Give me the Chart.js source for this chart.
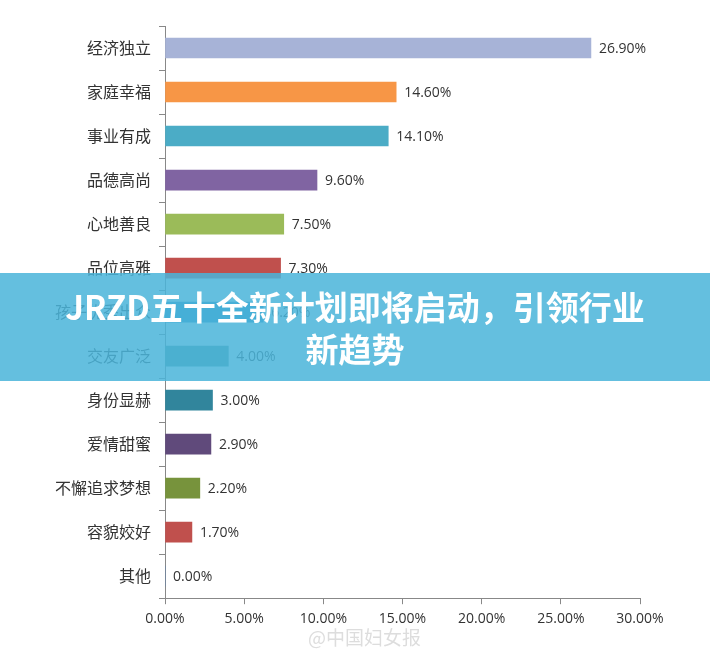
<!DOCTYPE html>
<html>
<head>
<script src="https://cdn.jsdelivr.net/npm/chart.js"></script>
<style>
  body { margin: 0; background: #fff; font-family: 'Noto Sans CJK SC', sans-serif; }
  #wrap { position: relative; width: 710px; height: 655px; }
  #banner {
    position: absolute; left: 0; top: 273px; width: 710px; height: 108px;
    background: rgba(75, 180, 218, 0.86); color: #fff; font-weight: 700;
    font-size: 33px; line-height: 42px; text-align: center;
    display: flex; align-items: center; justify-content: center;
  }
  #mark { position: absolute; left: 308px; top: 623px; color: #ddd; font-size: 19px; }
</style>
</head>
<body>
<div id="wrap">
  <canvas id="chart" width="710" height="655"></canvas>
  <div id="banner"><div>JRZD五十全新计划即将启动，引领行业<br>新趋势</div></div>
  <div id="mark">@中国妇女报</div>
</div>
<script>
var categories = ['经济独立', '家庭幸福', '事业有成', '品德高尚', '心地善良', '品位高雅', '孩子优秀出众', '交友广泛', '身份显赫', '爱情甜蜜', '不懈追求梦想', '容貌姣好', '其他'];
var values = [26.9, 14.6, 14.1, 9.6, 7.5, 7.3, 6.2, 4.0, 3.0, 2.9, 2.2, 1.7, 0.0];
var colors = ['#a7b3d7', '#f79646', '#4bacc6', '#8064a2', '#9bbb59', '#c0504d', '#2c8fc5', '#4f9595', '#31859c', '#604a7b', '#77933c', '#c0504d', '#4f81bd'];
var xTicks = [0, 5, 10, 15, 20, 25, 30];

var valueLabels = {
  id: 'valueLabels',
  afterDatasetsDraw: function(chart) {
    var ctx = chart.ctx;
    var meta = chart.getDatasetMeta(0);
    ctx.save();
    ctx.font = '14px "Open Sans", sans-serif';
    ctx.fillStyle = '#333';
    ctx.textBaseline = 'middle';
    meta.data.forEach(function(bar, i) {
      ctx.fillText(values[i].toFixed(2) + '%', bar.x + 8, bar.y + 1);
    });
    ctx.restore();
  }
};

new Chart(document.getElementById('chart'), {
  type: 'bar',
  data: {
    labels: categories,
    datasets: [{ data: values, backgroundColor: colors, barThickness: 20 }]
  },
  plugins: [valueLabels],
  options: {
    indexAxis: 'y',
    responsive: false,
    animation: false,
    layout: { padding: { left: 10, right: 70, top: 26, bottom: 22 } },
    plugins: { legend: { display: false }, tooltip: { enabled: false } },
    scales: {
      x: {
        min: 0, max: 30,
        afterBuildTicks: function(axis) { axis.ticks = xTicks.map(function(v) { return { value: v }; }); },
        grid: { drawOnChartArea: false, color: '#888', tickLength: 6 },
        border: { color: '#888' },
        ticks: { color: '#333', font: { size: 14, family: '"Open Sans", sans-serif' }, padding: 6,
                 callback: function(v) { return v.toFixed(2) + '%'; } }
      },
      y: {
        afterFit: function(axis) { axis.width = 155; },
        grid: { drawOnChartArea: false, offset: true, color: '#888', tickLength: 6 },
        border: { color: '#888' },
        ticks: { color: '#333', font: { size: 16, family: '"Noto Sans CJK SC", sans-serif' }, padding: 8 }
      }
    }
  }
});
</script>
</body>
</html>
